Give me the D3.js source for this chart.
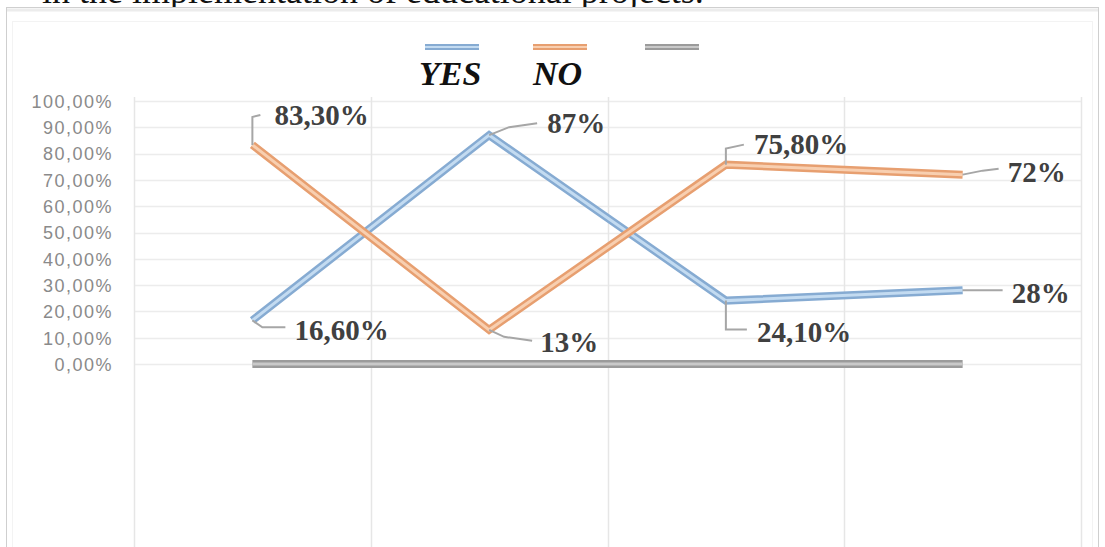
<!DOCTYPE html>
<html>
<head>
<meta charset="utf-8">
<script src="https://cdn.jsdelivr.net/npm/d3@7"></script>
<style>
  body { margin: 0; background: #fff; }
  svg { display: block; }
</style>
</head>
<body>
<div id="chart"></div>
<script>
// chart values
const categories = ['1', '2', '3', '4']
const yesValues = [0.166, 0.87, 0.241, 0.28]
const noValues = [0.833, 0.13, 0.758, 0.72]
const blankValues = [0, 0, 0, 0]
const yesLabels = ['16,60%', '87%', '24,10%', '28%']
const noLabels = ['83,30%', '13%', '75,80%', '72%']
const yTicks = [0, 0.1, 0.2, 0.3, 0.4, 0.5, 0.6, 0.7, 0.8, 0.9, 1]
const legendNames = ['YES', 'NO', '']

const width = 1105
const height = 547

const svg = d3.select('#chart')
  .append('svg')
  .attr('width', width)
  .attr('height', height)

// cut-off caption line from the page above the figure
svg.append('text')
  .attr('x', 42)
  .attr('y', 3)
  .attr('font-family', 'Liberation Serif, Times New Roman, serif')
  .attr('font-size', 36)
  .attr('fill', '#111')
  .text('in the implementation of educational projects.')

// outer frame
svg.append('rect')
  .attr('x', 6.5).attr('y', 7.5)
  .attr('width', 1092).attr('height', 560)
  .attr('fill', '#fff')
  .attr('stroke', '#cfcfcf')
svg.append('line')
  .attr('x1', 7).attr('x2', 1098)
  .attr('y1', 10).attr('y2', 10)
  .attr('stroke', '#ececec').attr('stroke-width', 3)
svg.append('rect')
  .attr('x', 12.5).attr('y', 21.5)
  .attr('width', 1080).attr('height', 540)
  .attr('fill', 'none')
  .attr('stroke', '#f3f3f3')

// scales
const x = d3.scaleBand()
  .domain(categories)
  .range([134, 1081])

const y = d3.scaleLinear()
  .domain([0, 1])
  .range([364, 101])

const cx = d => x(d) + x.bandwidth() / 2

// grid
svg.append('g')
  .selectAll('line')
  .data(yTicks)
  .join('line')
  .attr('x1', 134).attr('x2', 1081)
  .attr('y1', d => Math.round(y(d)) + 0.5)
  .attr('y2', d => Math.round(y(d)) + 0.5)
  .attr('stroke', '#ececec')
  .attr('stroke-width', 1.5)

const bounds = categories.map(c => x(c)).concat([x.range()[1]])
svg.append('g')
  .selectAll('line')
  .data(bounds)
  .join('line')
  .attr('x1', d => Math.round(d) + 0.5)
  .attr('x2', d => Math.round(d) + 0.5)
  .attr('y1', 97).attr('y2', height)
  .attr('stroke', '#e6e6e6')
  .attr('stroke-width', 1.5)

// y axis labels
const yAxis = d3.axisLeft(y)
  .tickValues(yTicks)
  .tickSize(0)
  .tickFormat(d => d3.format('.2f')(d * 100).replace('.', ',') + '%')

svg.append('g')
  .attr('transform', 'translate(113,0)')
  .call(yAxis)
  .call(g => g.select('.domain').remove())
  .call(g => g.selectAll('text')
    .attr('x', 0)
    .attr('dy', '0.35em')
    .attr('font-family', 'Liberation Sans, Arial, sans-serif')
    .attr('font-size', 18)
    .attr('letter-spacing', 1.5)
    .attr('fill', '#8a8a8a'))

// series drawn as double lines
const series = [
  { name: 'blank', values: blankValues, outer: '#9b9b9b', inner: '#c9c9c9' },
  { name: 'YES', values: yesValues, outer: '#86abd2', inner: '#c3dbf1' },
  { name: 'NO', values: noValues, outer: '#e79f70', inner: '#f8cfb0' },
]

const line = d3.line()
  .x((d, i) => cx(categories[i]))
  .y(d => y(d))

series.forEach(s => {
  svg.append('path')
    .datum(s.values)
    .attr('d', line)
    .attr('fill', 'none')
    .attr('stroke', s.outer)
    .attr('stroke-width', 8)
    .attr('stroke-linejoin', 'miter')
  svg.append('path')
    .datum(s.values)
    .attr('d', line)
    .attr('fill', 'none')
    .attr('stroke', s.inner)
    .attr('stroke-width', 3)
})

// data labels with leader lines (offsets are placement only)
const yesPlace = [
  { lead: [[0, 0], [10, 7], [33, 7]], dx: 42, dy: 10 },
  { lead: [[0, 0], [20, -8], [48, -12]], dx: 58, dy: -12 },
  { lead: [[0, 0], [0, 29], [21, 29]], dx: 31, dy: 31 },
  { lead: [[0, 0], [40, 0]], dx: 49, dy: 2 },
]
const noPlace = [
  { lead: [[0, 0], [0, -28], [8, -30]], dx: 22, dy: -30 },
  { lead: [[0, 0], [15, 7], [43, 11]], dx: 51, dy: 12 },
  { lead: [[0, 0], [0, -16], [18, -20]], dx: 28, dy: -21 },
  { lead: [[0, 0], [20, -4], [36, -6]], dx: 45, dy: -3 },
]

function drawLabels(values, labels, place) {
  values.forEach((v, i) => {
    const px = cx(categories[i])
    const py = y(v)
    const p = place[i]
    svg.append('path')
      .attr('d', d3.line()(p.lead.map(q => [px + q[0], py + q[1]])))
      .attr('fill', 'none')
      .attr('stroke', '#a6a6a6')
      .attr('stroke-width', 2)
    svg.append('text')
      .attr('x', px + p.dx)
      .attr('y', py + p.dy)
      .attr('dy', '0.35em')
      .attr('font-family', 'Liberation Serif, Times New Roman, serif')
      .attr('font-weight', 'bold')
      .attr('font-size', 29)
      .attr('fill', '#404040')
      .text(labels[i])
  })
}
drawLabels(yesValues, yesLabels, yesPlace)
drawLabels(noValues, noLabels, noPlace)

// legend
const legendLineX = [425, 533, 645]
const legendTextX = [419, 533, 645]
const legend = svg.append('g')
legendNames.forEach((name, i) => {
  const s = [series[1], series[2], series[0]][i]
  legend.append('line')
    .attr('x1', legendLineX[i]).attr('x2', legendLineX[i] + 54)
    .attr('y1', 47).attr('y2', 47)
    .attr('stroke', s.outer).attr('stroke-width', 6)
  legend.append('line')
    .attr('x1', legendLineX[i]).attr('x2', legendLineX[i] + 54)
    .attr('y1', 47).attr('y2', 47)
    .attr('stroke', s.inner).attr('stroke-width', 2)
  legend.append('text')
    .attr('x', legendTextX[i])
    .attr('y', 85)
    .attr('font-family', 'Liberation Serif, Times New Roman, serif')
    .attr('font-weight', 'bold')
    .attr('font-style', 'italic')
    .attr('font-size', 34)
    .attr('fill', '#111')
    .text(name)
})
</script>
</body>
</html>
